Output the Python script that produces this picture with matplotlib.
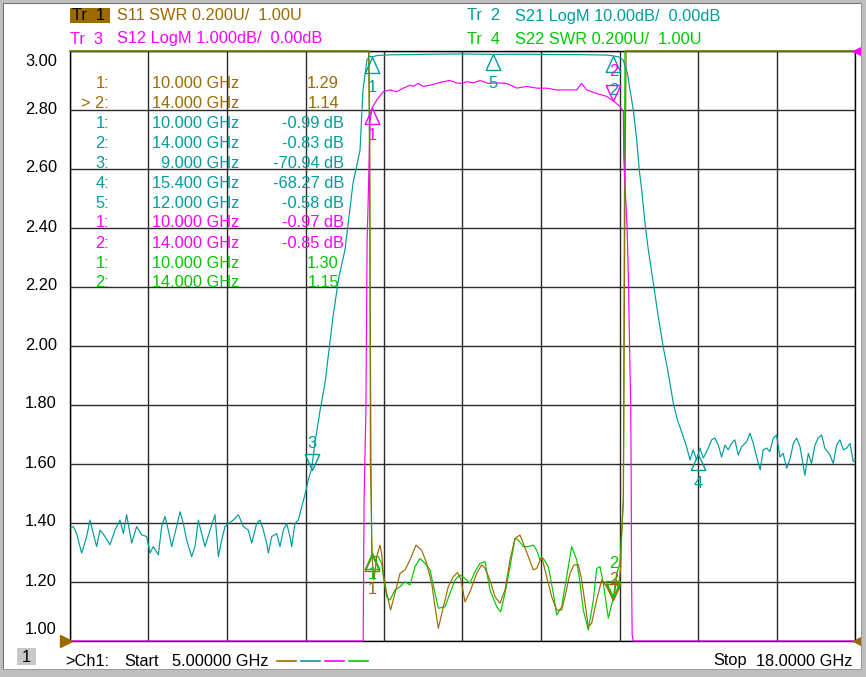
import numpy as np
import matplotlib
matplotlib.use("Agg")
import matplotlib.pyplot as plt
from matplotlib.path import Path
from matplotlib.patches import Rectangle
import matplotlib.transforms as mtransforms

plt.rcParams['font.family'] = ['Liberation Sans', 'DejaVu Sans']

# ---------------- data ----------------
F_START, F_STOP = 5.0, 18.0

# S21 (dB)
s21_f = [5.000, 5.055, 5.110, 5.193, 5.276, 5.331, 5.386, 5.442, 5.497, 5.580, 5.662, 5.745,
         5.828, 5.883, 5.938, 6.021, 6.104, 6.187, 6.270, 6.325, 6.380, 6.463, 6.518, 6.573,
         6.628, 6.684, 6.766, 6.822, 6.877, 6.932, 7.015, 7.070, 7.125, 7.180, 7.236, 7.319,
         7.401, 7.457, 7.512, 7.567, 7.622, 7.705, 7.788, 7.871, 7.953, 8.009, 8.091, 8.147,
         8.202, 8.257, 8.285, 8.340, 8.423, 8.478, 8.533, 8.588, 8.643, 8.671, 8.726, 8.781,
         8.809, 8.870, 8.908, 8.950, 9.000, 9.057, 9.140, 9.223, 9.355, 9.450, 9.554, 9.687,
         9.803, 9.852, 9.918, 9.960, 10.000, 10.100, 10.300, 10.600, 11.000, 11.500, 12.000,
         12.500, 13.000, 13.500, 13.900, 14.000, 14.080, 14.160, 14.230, 14.274, 14.329, 14.385,
         14.428, 14.468, 14.522, 14.577, 14.660, 14.743, 14.825, 14.908, 14.991, 15.057, 15.100,
         15.157, 15.212, 15.267, 15.320, 15.378, 15.433, 15.488, 15.570, 15.626, 15.680, 15.737,
         15.790, 15.847, 15.900, 15.957, 16.010, 16.068, 16.120, 16.206, 16.260, 16.316, 16.370,
         16.430, 16.480, 16.537, 16.590, 16.647, 16.700, 16.758, 16.810, 16.868, 16.920, 16.980,
         17.034, 17.090, 17.144, 17.170, 17.227, 17.280, 17.337, 17.390, 17.448, 17.500, 17.586,
         17.640, 17.696, 17.750, 17.807, 17.862, 17.917, 17.972, 18.000]
s21_db = [-80.9, -80.6, -81.8, -85.1, -82.3, -79.5, -81.8, -84.0, -81.2, -82.3, -83.7, -81.2,
          -79.5, -81.8, -78.6, -83.4, -80.6, -82.0, -82.3, -85.1, -84.0, -85.4, -80.6, -78.9,
          -81.2, -84.0, -80.6, -78.1, -80.1, -82.9, -85.7, -84.0, -79.5, -81.8, -84.0, -81.2,
          -78.6, -85.7, -82.9, -80.6, -80.1, -79.5, -78.6, -80.6, -81.2, -83.4, -80.1, -79.5,
          -81.2, -83.4, -85.1, -82.3, -81.8, -84.0, -81.2, -80.1, -82.3, -84.0, -80.1, -79.5,
          -78.4, -76.0, -74.5, -72.5, -70.9, -66.4, -61.0, -56.3, -45.1, -38.5, -33.7, -22.4,
          -16.8, -6.6, -1.5, -0.9, -0.99, -0.75, -0.65, -0.60, -0.55, -0.50, -0.58,
          -0.55, -0.60, -0.62, -0.70, -0.83, -1.0, -1.5, -3.7, -6.6, -10.0, -15.1,
          -20.2, -23.6, -29.2, -33.7, -39.3, -45.1, -50.2, -54.6, -59.7, -62.5, -63.7,
          -65.4, -67.1, -69.3, -67.6, -69.3, -67.3, -69.0, -67.3, -65.9, -65.6, -66.8,
          -68.8, -66.8, -67.6, -66.5, -65.9, -68.5, -67.1, -66.2, -64.8, -66.5, -68.8,
          -71.0, -67.6, -67.3, -67.9, -65.6, -65.1, -68.8, -68.2, -70.7, -69.3, -66.5,
          -65.6, -67.1, -70.4, -71.9, -68.2, -69.9, -66.8, -65.6, -65.1, -67.3, -68.5,
          -69.9, -66.8, -65.9, -67.6, -67.3, -66.5, -69.6, -69.3]

# S12 (dB)
s12_f = [5.000, 9.800, 9.855, 9.870, 9.900, 9.920, 9.945, 9.968, 10.000, 10.080, 10.189,
         10.300, 10.410, 10.520, 10.630, 10.680, 10.763, 10.850, 10.960, 11.070, 11.180, 11.290,
         11.400, 11.490, 11.570, 11.680, 11.790, 11.930, 12.067, 12.232, 12.400, 12.560, 12.730,
         12.895, 13.060, 13.226, 13.390, 13.470, 13.557, 13.720, 13.888, 14.000, 14.109, 14.163,
         14.170, 14.226, 14.250, 14.270, 14.286, 14.295, 14.300, 14.310, 14.330, 14.500, 18.000]
s12_db = [-75.0, -40.0, -10.5, -7.6, -6.1, -3.25, -2.24, -1.2, -0.97, -0.83, -0.69,
          -0.66, -0.69, -0.63, -0.58, -0.60, -0.55, -0.60, -0.58, -0.55, -0.52, -0.50,
          -0.54, -0.55, -0.52, -0.54, -0.50, -0.55, -0.54, -0.55, -0.63, -0.60, -0.63,
          -0.63, -0.66, -0.66, -0.66, -0.55, -0.66, -0.72, -0.77, -0.85, -0.94, -1.03,
          -1.8, -3.0, -4.0, -5.2, -6.0, -7.5, -9.0, -9.9, -12.0, -40.0, -70.0]

# S11 (SWR)
s11_f = [5.000, 9.930, 9.945, 9.965, 9.975, 9.990, 10.000, 10.034, 10.079, 10.134, 10.161,
         10.189, 10.244, 10.310, 10.382, 10.465, 10.548, 10.631, 10.730, 10.824, 10.907, 10.990,
         11.045, 11.100, 11.183, 11.265, 11.348, 11.414, 11.470, 11.541, 11.624, 11.735, 11.817,
         11.873, 11.955, 12.038, 12.121, 12.204, 12.287, 12.370, 12.452, 12.508, 12.590, 12.673,
         12.728, 12.811, 12.894, 12.977, 13.060, 13.142, 13.197, 13.280, 13.346, 13.418, 13.474,
         13.529, 13.584, 13.639, 13.722, 13.805, 13.888, 13.970, 14.000, 14.053, 14.081, 14.120,
         14.136, 14.164, 14.190, 14.210, 18.000]
s11_swr = [20.0, 20.0, 3.2, 2.7, 1.6, 1.45, 1.29, 1.207, 1.286, 1.325, 1.297,
           1.229, 1.162, 1.105, 1.162, 1.229, 1.241, 1.275, 1.325, 1.308, 1.263, 1.196,
           1.116, 1.043, 1.116, 1.184, 1.218, 1.232, 1.212, 1.133, 1.167, 1.229, 1.258,
           1.246, 1.207, 1.150, 1.128, 1.173, 1.275, 1.348, 1.359, 1.331, 1.286, 1.241,
           1.246, 1.286, 1.218, 1.150, 1.105, 1.105, 1.150, 1.229, 1.258, 1.258, 1.207,
           1.128, 1.049, 1.060, 1.139, 1.207, 1.184, 1.150, 1.14, 1.207, 1.173, 1.252,
           1.365, 1.478, 2.5, 20.0, 20.0]

# S22 (SWR)
s22_f = [5.000, 9.930, 9.950, 9.970, 9.985, 9.995, 10.000, 10.034, 10.106, 10.161, 10.189,
         10.244, 10.299, 10.382, 10.465, 10.548, 10.631, 10.713, 10.796, 10.879, 10.962, 11.045,
         11.100, 11.210, 11.293, 11.376, 11.459, 11.541, 11.624, 11.707, 11.790, 11.873, 11.955,
         12.066, 12.132, 12.204, 12.287, 12.370, 12.425, 12.508, 12.590, 12.673, 12.728, 12.784,
         12.839, 12.921, 13.004, 13.060, 13.142, 13.225, 13.308, 13.391, 13.446, 13.501, 13.584,
         13.667, 13.722, 13.777, 13.832, 13.915, 14.000, 14.053, 14.108, 14.136, 14.164, 14.190,
         14.210, 18.000]
s22_swr = [20.0, 20.0, 3.2, 2.2, 1.6, 1.35, 1.30, 1.286, 1.286, 1.263, 1.218,
           1.150, 1.139, 1.173, 1.184, 1.201, 1.190, 1.252, 1.280, 1.263, 1.241, 1.162,
           1.111, 1.116, 1.162, 1.207, 1.224, 1.212, 1.196, 1.235, 1.263, 1.269, 1.173,
           1.116, 1.099, 1.162, 1.252, 1.348, 1.342, 1.320, 1.320, 1.325, 1.308, 1.275,
           1.280, 1.252, 1.162, 1.088, 1.116, 1.218, 1.320, 1.275, 1.196, 1.105, 1.037,
           1.139, 1.246, 1.252, 1.196, 1.077, 1.15, 1.229, 1.263, 1.365, 1.478, 3.0,
           20.0, 20.0]

# marker tables
s11_mk_f = [10.0, 14.0]; s11_mk_v = [1.29, 1.14]
s21_mk_f = [10.0, 14.0, 9.0, 15.4, 12.0]; s21_mk_v = [-0.99, -0.83, -70.94, -68.27, -0.58]
s12_mk_f = [10.0, 14.0]; s12_mk_v = [-0.97, -0.85]
s22_mk_f = [10.0, 14.0]; s22_mk_v = [1.30, 1.15]

# ---------------- style ----------------
BROWN = '#9C6A00'
TEAL = '#009C9C'
MAG = '#FF00FF'
GREEN = '#00C800'
GRID = '#2A2A2A'

W, H = 866, 677
fig = plt.figure(figsize=(W / 100, H / 100), dpi=100)
fig.patch.set_facecolor('white')

L, R, T, B = 70, 855, 51, 641
ax = fig.add_axes([L / W, 1 - B / H, (R - L) / W, (B - T) / H])
ax.set_xlim(F_START, F_STOP)
ax.set_ylim(1.0, 3.0)
ax.set_xticks(np.linspace(F_START, F_STOP, 11))
ax.set_yticks(np.linspace(1.0, 3.0, 11))
ax.tick_params(length=0, labelbottom=False, labelleft=False)
ax.grid(True, color=GRID, lw=1.0)
for s in ax.spines.values():
    s.set_color('black')
    s.set_linewidth(1.0)

def swr_disp(v):
    return np.clip(np.asarray(v, float), 1.0, 3.0)

def s21_disp(v):  # 10 dB/div, ref 0 dB at top
    return np.clip(3.0 + np.asarray(v, float) * 0.02, 1.0, 3.0)

def s12_disp(v):  # 1 dB/div, ref 0 dB at top
    return np.clip(3.0 + np.asarray(v, float) * 0.2, 1.0, 3.0)

lw = 0.85
ax.plot(s22_f, swr_disp(s22_swr), color=GREEN, lw=lw, zorder=3.0, clip_on=False)
ax.plot(s11_f, swr_disp(s11_swr), color=BROWN, lw=lw, zorder=3.1, clip_on=False)
ax.plot(s21_f, s21_disp(s21_db), color=TEAL, lw=lw, zorder=3.2, clip_on=False)
ax.plot(s12_f, s12_disp(s12_db), color=MAG, lw=lw, zorder=3.3, clip_on=False)

# marker triangles
UP = Path([(0, 0), (-0.5, -1.1), (0.5, -1.1), (0, 0)], closed=True)    # below point, tip up
DOWN = Path([(0, 0), (-0.5, 1.1), (0.5, 1.1), (0, 0)], closed=True)    # above point, tip down

FS = 11.8

def mark(f, y, color, shape, label, dy_px, lab_dx=0):
    ax.plot([f], [y], marker=shape, markersize=23, mfc='none', mec=color, mew=1.0,
            zorder=4, clip_on=False)
    ax.annotate(label, (f, y), xytext=(lab_dx * 0.72, dy_px * 0.72), textcoords='offset points',
                ha='center', va='center', color=color, fontsize=FS, zorder=4)

disp21 = s21_disp(s21_mk_v)
mark(s21_mk_f[0], disp21[0], TEAL, UP, '1', -31)
mark(s21_mk_f[1], disp21[1], TEAL, UP, '2', -35)
mark(s21_mk_f[2], disp21[2], TEAL, DOWN, '3', 26)
mark(s21_mk_f[3], disp21[3], TEAL, UP, '4', -30)
mark(s21_mk_f[4], disp21[4], TEAL, UP, '5', -29)
disp12 = s12_disp(s12_mk_v)
mark(s12_mk_f[0], disp12[0], MAG, UP, '1', -27)
mark(s12_mk_f[1], disp12[1], MAG, DOWN, '2', 30)
mark(s11_mk_f[0], s11_mk_v[0], BROWN, UP, '1', -34)
mark(s11_mk_f[1], s11_mk_v[1], BROWN, DOWN, '2', 20)
mark(s22_mk_f[0], s22_mk_v[0], GREEN, UP, '1', -22)
mark(s22_mk_f[1], s22_mk_v[1], GREEN, DOWN, '2', 33)

# reference position triangles
offL = mtransforms.offset_copy(ax.transData, fig=fig, x=-4, y=0, units='dots')
offR = mtransforms.offset_copy(ax.transData, fig=fig, x=4, y=0, units='dots')
ax.plot([F_START], [1.0], marker='>', ms=8, color=BROWN, transform=offL, clip_on=False, zorder=5)
ax.plot([F_STOP], [1.0], marker='<', ms=8, color=BROWN, transform=offR, clip_on=False, zorder=5)
ax.plot([F_STOP], [3.0], marker='<', ms=9, color=MAG, transform=offR, clip_on=False, zorder=5)

# ---------------- texts ----------------
def ftext(x, y, s, color='black', ha='left', **kw):
    fig.text(x / W, 1 - y / H, s, color=color, ha=ha, va='center', fontsize=FS, **kw)

# header
fig.patches.append(Rectangle((70 / W, 1 - 23 / H), 40 / W, 15 / H, transform=fig.transFigure,
                             facecolor=BROWN, edgecolor='none', zorder=1))
ftext(72, 16, 'Tr  1', 'black', zorder=2)
ftext(117, 16, 'S11 SWR 0.200U/  1.00U', BROWN)
ftext(467, 16, 'Tr  2', TEAL)
ftext(515, 16, 'S21 LogM 10.00dB/  0.00dB', TEAL)
ftext(70, 39, 'Tr  3', MAG)
ftext(117, 39, 'S12 LogM 1.000dB/  0.00dB', MAG)
ftext(467, 39, 'Tr  4', GREEN)
ftext(515, 39, 'S22 SWR 0.200U/  1.00U', GREEN)

# y labels
ylabels = ['3.00', '2.80', '2.60', '2.40', '2.20', '2.00', '1.80', '1.60', '1.40', '1.20', '1.00']
for i, lab in enumerate(ylabels):
    yy = T + i * (B - T) / 10 - 1
    if i == 0:
        yy = 61
    if i == 10:
        yy = 629
    ftext(57, yy, lab, 'black', ha='right')

# marker table
rows = []
for k, (f, v) in enumerate(zip(s11_mk_f, s11_mk_v)):
    rows.append((('> ' if k == 1 else '') + f'{k + 1}:', f, f'{v:.2f}', BROWN))
for k, (f, v) in enumerate(zip(s21_mk_f, s21_mk_v)):
    rows.append((f'{k + 1}:', f, f'{v:.2f} dB', TEAL))
for k, (f, v) in enumerate(zip(s12_mk_f, s12_mk_v)):
    rows.append((f'{k + 1}:', f, f'{v:.2f} dB', MAG))
for k, (f, v) in enumerate(zip(s22_mk_f, s22_mk_v)):
    rows.append((f'{k + 1}:', f, f'{v:.2f}', GREEN))
for i, (idx, f, val, col) in enumerate(rows):
    yy = 83 + 20 * i
    ftext(109, yy, idx, col, ha='right', zorder=6)
    ftext(239, yy, f'{f:.3f} GHz', col, ha='right', zorder=6)
    ftext(344 if 'dB' in val else 339, yy, val, col, ha='right', zorder=6)

# footer
fig.patches.append(Rectangle((17 / W, 1 - 665 / H), 19 / W, 17 / H, transform=fig.transFigure,
                             facecolor='#C8C8C8', edgecolor='none', zorder=1))
ftext(26, 657, '1', 'black', ha='center', zorder=2)
ftext(65, 661, '>Ch1:', 'black')
ftext(124, 661, 'Start', 'black')
ftext(269, 661, '5.00000 GHz', 'black', ha='right')
for j, c in enumerate([BROWN, TEAL, MAG, GREEN]):
    x0 = 277 + 24 * j
    fig.add_artist(plt.Line2D([x0 / W, (x0 + 19) / W], [1 - 661 / H, 1 - 661 / H],
                              transform=fig.transFigure, color=c, lw=1.2))
ftext(713, 661, 'Stop', 'black')
ftext(853, 661, '18.0000 GHz', 'black', ha='right')

# window border
def frect(x, y, w, h, c):
    fig.patches.append(Rectangle((x / W, 1 - (y + h) / H), w / W, h / H, transform=fig.transFigure,
                                 facecolor=c, edgecolor='none', zorder=0.5))
frect(0, 0, W, 3, '#BEBEBE')
frect(0, 0, 3, H, '#BEBEBE')
frect(862, 0, 4, H, '#BEBEBE')
frect(0, 670, W, 7, '#BEBEBE')
frect(3, 3, 859, 1, '#6E6E6E')
frect(3, 3, 1, 667, '#6E6E6E')
frect(861, 3, 1, 667, '#9A9A9A')
frect(3, 669, 859, 1, '#9A9A9A')

fig.savefig('out.png', dpi=100, facecolor='white')
